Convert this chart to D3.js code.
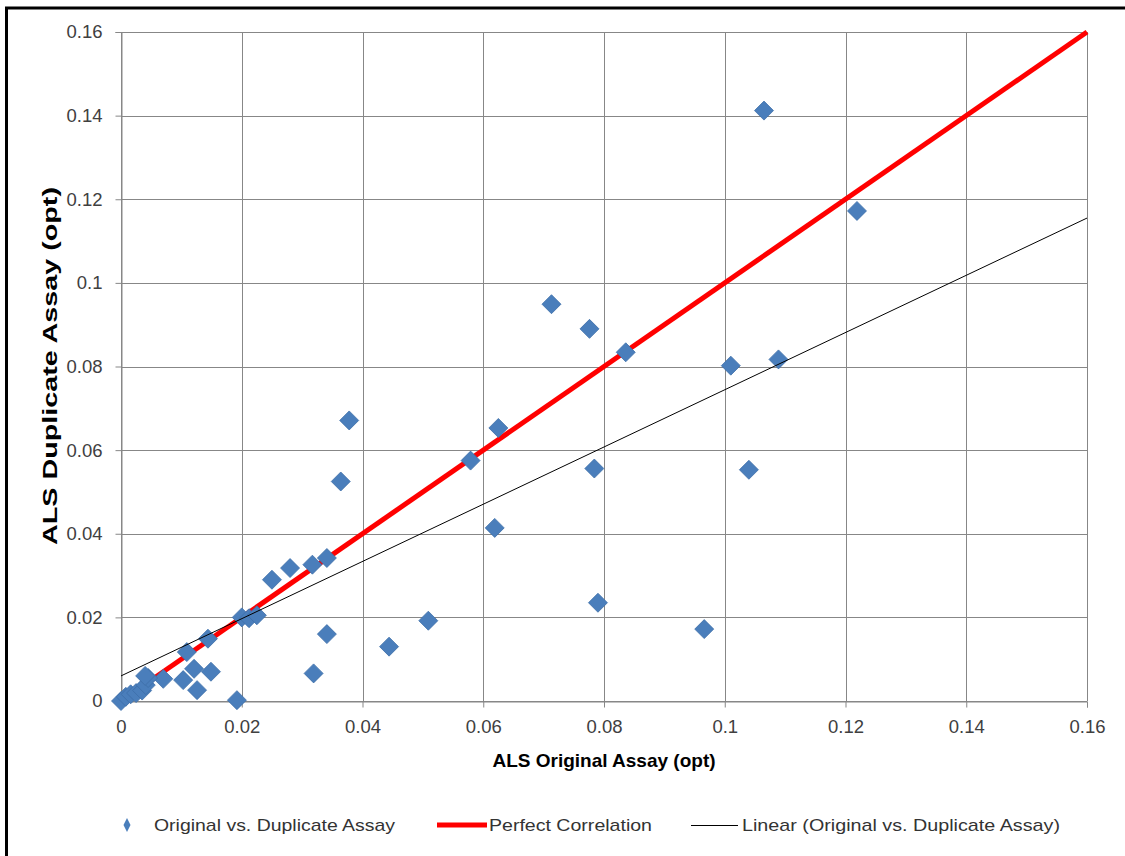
<!DOCTYPE html>
<html><head><meta charset="utf-8">
<script src="https://cdn.jsdelivr.net/npm/d3@7"></script>
<style>body{margin:0;background:#fff;}svg{display:block;}</style>
</head><body>
<svg id="c" width="1125" height="856"></svg>
<script>
// Data
const originalAssay = [0.1065,0.1219,0.0713,0.0776,0.0836,0.1010,0.1089,0.0378,0.0625,0.0579,0.0364,0.0784,0.1040,0.0619,0.0790,0.0966,0.0509,0.0444,0.0341,0.0319,0.0192,0.0250,0.0280,0.0317,0.0341,0.0200,0.0212,0.0225,0.0144,0.0109,0.0070,0.0103,0.0121,0.0126,0.0149,0.0000,0.0008,0.0016,0.0025,0.0035,0.0041,0.0045,0.0040];
const duplicateAssay = [0.1412,0.1172,0.0949,0.0890,0.0834,0.0802,0.0817,0.0671,0.0653,0.0575,0.0525,0.0556,0.0553,0.0414,0.0235,0.0172,0.0192,0.0130,0.0160,0.0066,0.0002,0.0290,0.0318,0.0326,0.0342,0.0200,0.0198,0.0205,0.0149,0.0117,0.0053,0.0050,0.0077,0.0026,0.0070,0.0000,0.0010,0.0016,0.0019,0.0025,0.0038,0.0055,0.0060];
const perfectX = [0, 0.16];
const perfectY = [0, 0.16];
const trendX = [0, 0.16];
const trendY = [0.0060, 0.1155];
const xTicks = [0,0.02,0.04,0.06,0.08,0.1,0.12,0.14,0.16];
const yTicks = [0,0.02,0.04,0.06,0.08,0.1,0.12,0.14,0.16];
const xTitle = "ALS Original Assay (opt)";
const yTitle = "ALS Duplicate Assay (opt)";
const legendLabels = ["Original vs. Duplicate Assay","Perfect Correlation","Linear (Original vs. Duplicate Assay)"];

const svg = d3.select("#c");
const x = d3.scaleLinear().domain([0,0.16]).range([121,1087]);
const y = d3.scaleLinear().domain([0,0.16]).range([701,32]);
const fmt = d => d===0 ? "0" : d3.format("")(+d.toFixed(2));
const FONT = "'Liberation Sans', Arial, sans-serif";

// outer border
svg.append("rect").attr("x",6.5).attr("y",8).attr("width",1300).attr("height",1000)
  .attr("fill","none").attr("stroke","#000").attr("stroke-width",3);

// gridlines
const g = svg.append("g");
g.selectAll("line.v").data(xTicks).join("line")
  .attr("x1",d=>Math.round(x(d))+0.5).attr("x2",d=>Math.round(x(d))+0.5)
  .attr("y1",y(0.16)).attr("y2",y(0)).attr("stroke","#878787").attr("stroke-width",1);
g.selectAll("line.h").data(yTicks).join("line")
  .attr("y1",d=>Math.round(y(d))+0.5).attr("y2",d=>Math.round(y(d))+0.5)
  .attr("x1",x(0)).attr("x2",x(0.16)).attr("stroke","#878787").attr("stroke-width",1);

// axes
const xAxis = d3.axisBottom(x).tickValues(xTicks).tickFormat(fmt).tickSize(6).tickPadding(12);
const yAxis = d3.axisLeft(y).tickValues(yTicks).tickFormat(fmt).tickSize(6).tickPadding(13);
const gx = svg.append("g").attr("transform",`translate(0,${Math.round(y(0))+0.5})`).call(xAxis);
const gy = svg.append("g").attr("transform",`translate(${Math.round(x(0))+0.5},0)`).call(yAxis);
[gx,gy].forEach(a=>{
  a.select(".domain").attr("stroke","#878787");
  a.selectAll(".tick line").attr("stroke","#878787");
  a.selectAll("text").attr("font-family",FONT)
   .attr("font-size",18.5).attr("fill","#404040");
});

// perfect correlation
const line = d3.line().x(d=>x(d[0])).y(d=>y(d[1]));
svg.append("path").datum(d3.zip(perfectX,perfectY)).attr("d",line)
  .attr("stroke","#ff0000").attr("stroke-width",5).attr("fill","none");

// markers
const diamond = (cx,cy,r)=>`M${cx},${cy-r}L${cx+r},${cy}L${cx},${cy+r}L${cx-r},${cy}Z`;
svg.append("g").selectAll("path").data(d3.zip(originalAssay,duplicateAssay)).join("path")
  .attr("d",d=>diamond(x(d[0]),y(d[1]),9.5))
  .attr("fill","#4a7ebb").attr("stroke","#3d6ea8").attr("stroke-width",0.8);

// trendline
svg.append("path").datum(d3.zip(trendX,trendY)).attr("d",line)
  .attr("stroke","#000").attr("stroke-width",1).attr("fill","none");

// titles
svg.append("text").attr("x",604).attr("y",767).attr("text-anchor","middle")
  .attr("font-family",FONT).attr("font-weight","bold")
  .attr("font-size",19).attr("fill","#000").text(xTitle);
svg.append("text").attr("transform","translate(57,366) rotate(-90)").attr("text-anchor","middle")
  .attr("font-family",FONT).attr("font-weight","bold")
  .attr("font-size",20).attr("fill","#000")
  .attr("textLength",358).attr("lengthAdjust","spacingAndGlyphs").text(yTitle);

// legend
const lg = svg.append("g").attr("font-family",FONT).attr("font-size",17).attr("fill","#333");
lg.append("path").attr("d","M127,818L130.5,825L127,832L123.5,825Z").attr("fill","#4a7ebb");
lg.append("text").attr("x",154).attr("y",831).attr("textLength",241).attr("lengthAdjust","spacingAndGlyphs").text(legendLabels[0]);
lg.append("line").attr("x1",437).attr("x2",487).attr("y1",825).attr("y2",825).attr("stroke","#ff0000").attr("stroke-width",5);
lg.append("text").attr("x",489).attr("y",831).attr("textLength",163).attr("lengthAdjust","spacingAndGlyphs").text(legendLabels[1]);
lg.append("line").attr("x1",691).attr("x2",738).attr("y1",825.5).attr("y2",825.5).attr("stroke","#000").attr("stroke-width",1);
lg.append("text").attr("x",742).attr("y",831).attr("textLength",318).attr("lengthAdjust","spacingAndGlyphs").text(legendLabels[2]);
</script>
</body></html>
